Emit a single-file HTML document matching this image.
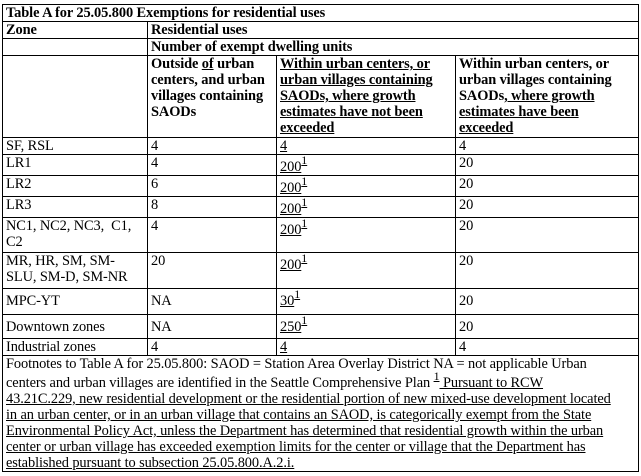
<!DOCTYPE html>
<html><head><meta charset="utf-8"><style>
body{margin:0;background:#fff;width:641px;height:476px;overflow:hidden}
table{position:absolute;left:2px;top:4px;border-collapse:collapse;table-layout:fixed;width:636px;font-family:"Liberation Serif",serif;font-size:14.4px;color:#000;letter-spacing:-0.1px}
td{border:1px solid #000;padding:0 2px 0 3px;vertical-align:top;line-height:16px;white-space:nowrap;overflow:hidden}
b{font-weight:bold}
u{text-decoration:underline}
sup{font-size:12px;line-height:0;vertical-align:top;position:relative;top:1px;text-decoration:underline}
.sp{display:inline-block;margin-top:4px}
.fn{line-height:16px;padding-top:0}
</style></head><body>
<table>
<colgroup><col style="width:145px"><col style="width:129px"><col style="width:179px"><col style="width:183px"></colgroup>
<tr style="height:17px"><td colspan="4"><b>Table A for 25.05.800 Exemptions for residential uses</b></td></tr>
<tr style="height:17px"><td><b>Zone</b></td><td colspan="3"><b>Residential uses</b></td></tr>
<tr style="height:17px"><td></td><td colspan="3"><b>Number of exempt dwelling units</b></td></tr>
<tr style="height:82px"><td></td>
<td><b>Outside <u>of</u> urban<br>centers, and urban<br>villages containing<br>SAODs</b></td>
<td><b><u>Within urban centers, or<br>urban villages containing<br>SAODs, where growth<br>estimates have not been<br>exceeded</u></b></td>
<td><b>Within urban centers, or<br>urban villages containing<br>SAODs<u>, where growth<br>estimates have been<br>exceeded</u></b></td></tr>
<tr style="height:17px"><td>SF, RSL</td><td>4</td><td><u>4</u></td><td>4</td></tr>
<tr style="height:20px"><td>LR1</td><td>4</td><td><span class="sp"><u>200</u><sup>1</sup></span></td><td>20</td></tr>
<tr style="height:20px"><td>LR2</td><td>6</td><td><span class="sp"><u>200</u><sup>1</sup></span></td><td>20</td></tr>
<tr style="height:20px"><td>LR3</td><td>8</td><td><span class="sp"><u>200</u><sup>1</sup></span></td><td>20</td></tr>
<tr style="height:35px"><td>NC1, NC2, NC3,&nbsp; C1,<br>C2</td><td>4</td><td><span class="sp"><u>200</u><sup>1</sup></span></td><td>20</td></tr>
<tr style="height:36px"><td>MR, HR, SM, SM-<br>SLU, SM-D, SM-NR</td><td>20</td><td><span class="sp"><u>200</u><sup>1</sup></span></td><td>20</td></tr>
<tr style="height:26px"><td><span class="sp">MPC-YT</span></td><td><span class="sp">NA</span></td><td><span class="sp"><u>30</u><sup>1</sup></span></td><td><span class="sp">20</span></td></tr>
<tr style="height:24px"><td><span class="sp">Downtown zones</span></td><td><span class="sp">NA</span></td><td><span class="sp"><u>250</u><sup>1</sup></span></td><td><span class="sp">20</span></td></tr>
<tr style="height:17px"><td>Industrial zones</td><td>4</td><td><u>4</u></td><td>4</td></tr>
<tr><td colspan="4" class="fn">Footnotes to Table A for 25.05.800: SAOD = Station Area Overlay District NA = not applicable Urban<br><span style="display:inline-block;margin-top:3px">centers and urban villages are identified in the Seattle Comprehensive Plan <sup>1</sup><u> Pursuant to RCW</u></span><br><u>43.21C.229, new residential development or the residential portion of new mixed-use development located<br>in an urban center, or in an urban village that contains an SAOD, is categorically exempt from the State<br>Environmental Policy Act, unless the Department has determined that residential growth within the urban<br>center or urban village has exceeded exemption limits for the center or village that the Department has<br>established pursuant to subsection 25.05.800.A.2.i.</u></td></tr>
</table>
</body></html>
